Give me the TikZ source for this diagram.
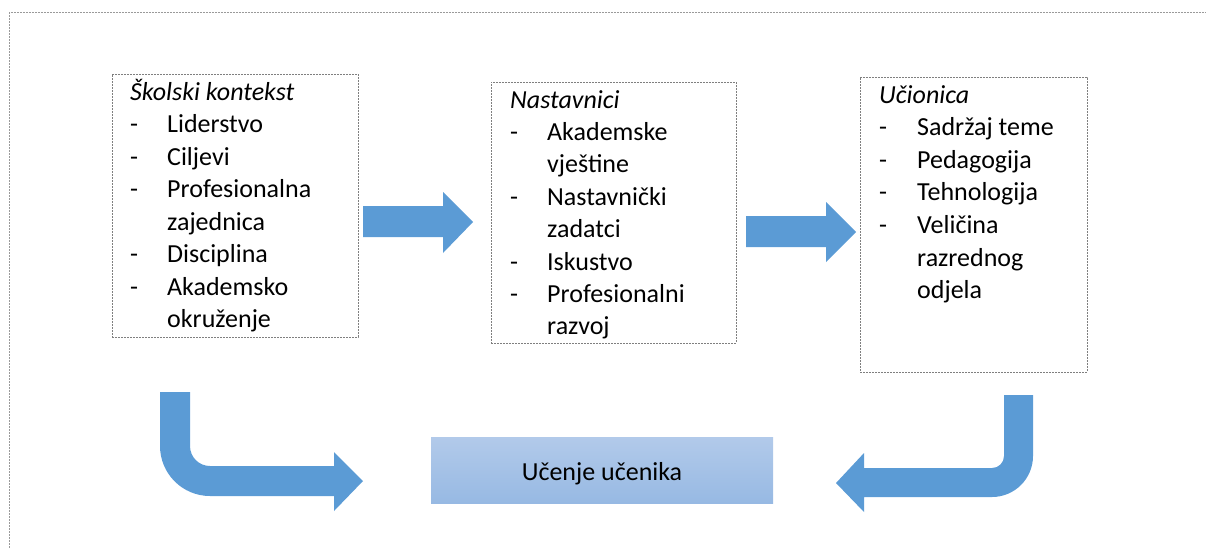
\documentclass[tikz,border=0pt]{standalone}
\usepackage{fontspec}
\setmainfont{Carlito}
\usetikzlibrary{calc}
\definecolor{arrowblue}{HTML}{5B9BD5}
\definecolor{boxgray}{HTML}{7F7F7F}
\definecolor{framegray}{HTML}{9A9A9A}
\definecolor{gradtop}{HTML}{B2CAEA}
\definecolor{gradbot}{HTML}{97B9E3}
\begin{document}
\begin{tikzpicture}[x=1pt,y=-1pt,
  dashbox/.style={draw=boxgray, line width=0.8pt, dash pattern=on 2pt off 1pt,
    anchor=north west, inner sep=0pt, outer sep=0pt},
  itemtext/.style={anchor=base west, inner sep=0pt, font=\fontsize{26}{31}\selectfont},
  titletext/.style={itemtext, font=\fontsize{26}{31}\selectfont\itshape},
  blockarrow/.style={fill=arrowblue, draw=none}]
\useasboundingbox (0,0) rectangle (1206,547);
\clip (0,0) rectangle (1206,547);
% outer frame
\draw[framegray, line width=0.8pt, dash pattern=on 2pt off 1pt] (9,12) rectangle (1240,580);
% boxes
\node[dashbox, minimum width=246pt, minimum height=263pt] (school) at (112,74) {};
\node[dashbox, minimum width=245pt, minimum height=261pt] (teach) at (491,82) {};
\node[dashbox, minimum width=227pt, minimum height=295pt] (class) at (860,77) {};
\node[anchor=north west, inner sep=0pt, outer sep=0pt, minimum width=342pt, minimum height=66pt,
  top color=gradtop, bottom color=gradbot, draw=none,
  font=\fontsize{26}{31}\selectfont, text height=20pt, text depth=0pt] (learn) at (431,437) {Učenje učenika};
% box texts
\node[titletext] (schoolt) at ($(school.north west)+(18,26)$) {Školski kontekst};
\foreach \t/\d [count=\i] in {Liderstvo/1,Ciljevi/1,Profesionalna/1,zajednica/0,Disciplina/1,Akademsko/1,okruženje/0}
  \node[itemtext] (school\i) at ($(school.north west)+(18,26+32.5*\i)$) {\ifnum\d=1 \makebox[37pt][l]{-}\else\hspace*{37pt}\fi\t};
\node[titletext] (teacht) at ($(teach.north west)+(19,26)$) {Nastavnici};
\foreach \t/\d [count=\i] in {Akademske/1,vještine/0,Nastavnički/1,zadatci/0,Iskustvo/1,Profesionalni/1,razvoj/0}
  \node[itemtext] (teach\i) at ($(teach.north west)+(19,26+32.4*\i)$) {\ifnum\d=1 \makebox[37pt][l]{-}\else\hspace*{37pt}\fi\t};
\node[titletext] (classt) at ($(class.north west)+(19,26)$) {Učionica};
\foreach \t/\d [count=\i] in {Sadržaj teme/1,Pedagogija/1,Tehnologija/1,Veličina/1,razrednog/0,odjela/0}
  \node[itemtext] (class\i) at ($(class.north west)+(19,26+32.6*\i)$) {\ifnum\d=1 \makebox[38pt][l]{-}\else\hspace*{38pt}\fi\t};
% straight block arrows
\fill[blockarrow] (363,206) -- (443,206) -- (443,192) -- (473,222) -- (443,253) -- (443,237) -- (363,237) -- cycle;
\fill[blockarrow] (746,216) -- (826,216) -- (826,202) -- (856,232) -- (826,262) -- (826,247) -- (746,247) -- cycle;
% bent arrow left
\fill[blockarrow] (160,392) -- (190,392) -- (190,446) arc[start angle=180, end angle=90, radius=20]
  -- (334,466) -- (334,452) -- (363,481) -- (334,511) -- (334,496) -- (210,496)
  arc[start angle=90, end angle=180, radius=50] -- cycle;
% bent arrow right
\fill[blockarrow] (1004,395) -- (1004,456) arc[start angle=0, end angle=90, radius=12]
  -- (864,468) -- (864,453) -- (836,483) -- (864,512) -- (864,497) -- (992,497)
  arc[start angle=90, end angle=0, radius=41] -- (1033,395) -- cycle;
\end{tikzpicture}
\end{document}
